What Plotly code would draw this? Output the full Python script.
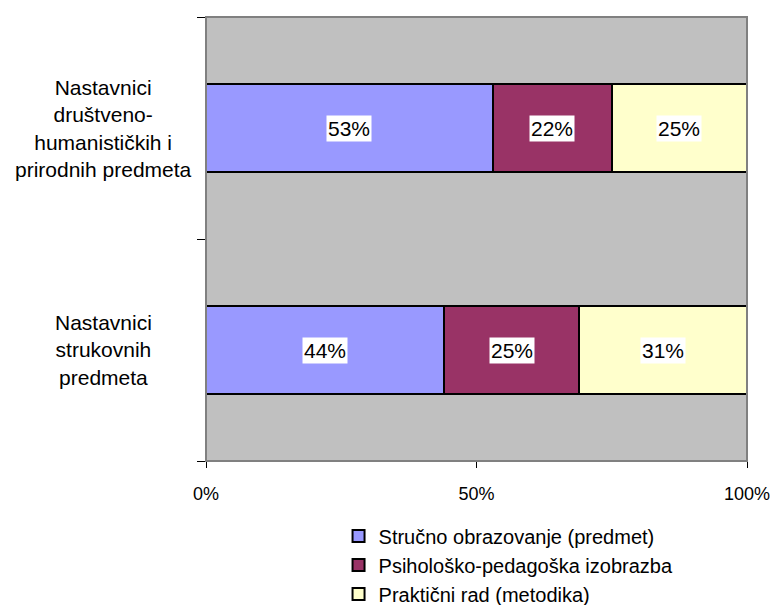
import plotly.graph_objects as go

# categories bottom to top (plotly draws the first category at the bottom)
categories = [
    "Nastavnici strukovnih predmeta",
    "Nastavnici društveno-humanističkih i prirodnih predmeta",
]
category_labels = [
    "Nastavnici<br>strukovnih<br>predmeta",
    "Nastavnici<br>društveno-<br>humanističkih i<br>prirodnih predmeta",
]
series_names = [
    "Stručno obrazovanje (predmet)",
    "Psihološko-pedagoška izobrazba",
    "Praktični rad (metodika)",
]
series_values = [
    [44, 53],
    [25, 22],
    [31, 25],
]
series_colors = ["#9999FF", "#993366", "#FFFFCC"]
tick_vals = [0, 50, 100]
tick_text = ["0%", "50%", "100%"]

FONT = "Liberation Sans, Arial, sans-serif"

fig = go.Figure()
for name, vals, color in zip(series_names, series_values, series_colors):
    fig.add_trace(go.Bar(
        y=categories,
        x=vals,
        name=name,
        orientation="h",
        marker=dict(color=color, line=dict(color="black", width=2)),
        hoverinfo="x+name",
    ))

# value labels with white background, centred on each segment
annotations = []
for i, cat in enumerate(categories):
    left = 0
    for vals in series_values:
        v = vals[i]
        annotations.append(dict(
            x=left + v / 2, y=cat, xref="x", yref="y",
            text=f"{v}%", showarrow=False,
            bgcolor="white", borderpad=1,
            font=dict(family=FONT, size=21, color="black"),
        ))
        left += v

# category labels, centred lines left of the plot
for cat, label in zip(categories, category_labels):
    annotations.append(dict(
        x=-103 / 541, y=cat, xref="paper", yref="y",
        text=label, showarrow=False, align="center",
        xanchor="center", yanchor="middle",
        font=dict(family=FONT, size=21, color="black"),
    ))

fig.update_layout(
    barmode="stack",
    bargap=0.6,
    width=775,
    height=605,
    margin=dict(l=206, r=28, t=17, b=144, autoexpand=False),
    paper_bgcolor="white",
    plot_bgcolor="#C0C0C0",
    font=dict(family=FONT, size=21, color="black"),
    annotations=annotations,
    showlegend=True,
    legend=dict(
        x=0.245, y=-0.125, xanchor="left", yanchor="top",
        traceorder="normal",
        font=dict(family=FONT, size=20, color="black"),
        bgcolor="rgba(0,0,0,0)",
        tracegroupgap=0,
    ),
    shapes=[dict(
        type="rect", xref="paper", yref="paper",
        x0=0, x1=1, y0=0, y1=1,
        line=dict(color="#808080", width=2), layer="above",
    )],
)

fig.update_xaxes(
    range=[0, 100],
    tickvals=tick_vals,
    ticktext=tick_text,
    showgrid=False,
    zeroline=False,
    showline=True,
    linecolor="black",
    linewidth=1,
    ticks="outside",
    ticklen=6,
    tickcolor="black",
    ticklabelstandoff=10,
    tickfont=dict(family=FONT, size=18, color="black"),
)
fig.update_yaxes(
    categoryorder="array",
    categoryarray=categories,
    range=[-0.5, 1.5],
    showticklabels=False,
    showgrid=False,
    zeroline=False,
    showline=True,
    linecolor="black",
    linewidth=1,
    ticks="outside",
    tickson="boundaries",
    ticklen=8,
    tickcolor="black",
)

fig.write_html(
    "out.html",
    config={"displayModeBar": False},
    post_script="document.body.style.margin='0';",
)
